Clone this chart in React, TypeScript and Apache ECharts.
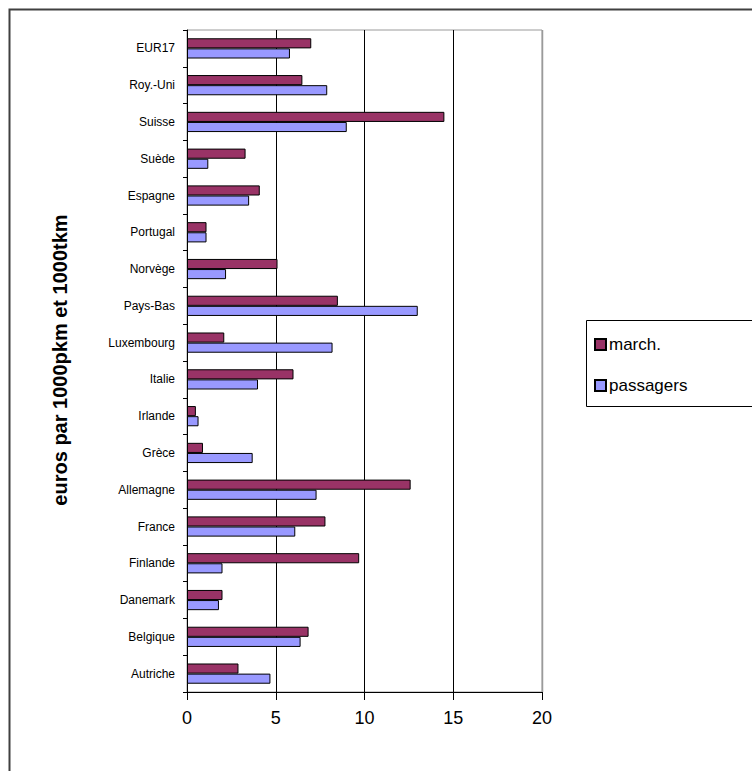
import React, { useEffect, useRef } from "react";
import * as echarts from "echarts";

const categories = [
  "Autriche", "Belgique", "Danemark", "Finlande", "France", "Allemagne",
  "Grèce", "Irlande", "Italie", "Luxembourg", "Pays-Bas", "Norvège",
  "Portugal", "Espagne", "Suède", "Suisse", "Roy.-Uni", "EUR17",
];
const marchValues = [2.9, 6.85, 2.0, 9.7, 7.8, 12.6, 0.9, 0.5, 6.0, 2.1, 8.5, 5.1, 1.1, 4.1, 3.3, 14.5, 6.5, 7.0];
const passagersValues = [4.7, 6.4, 1.8, 2.0, 6.1, 7.3, 3.7, 0.65, 4.0, 8.2, 13.0, 2.2, 1.1, 3.5, 1.2, 9.0, 7.9, 5.8];
const xTicks = [0, 5, 10, 15, 20];
const seriesNames = ["march.", "passagers"];
const yTitle = "euros par 1000pkm et 1000tkm";

export default function App() {
  const ref = useRef<HTMLDivElement>(null);
  useEffect(() => {
    if (!ref.current) return;
    const chart = echarts.init(ref.current, null, { renderer: "svg" });
    const font = "'Liberation Sans', Arial, sans-serif";
    chart.setOption({
      animation: false,
      backgroundColor: "#ffffff",
      grid: {
        left: 187, top: 30, width: 355, height: 662,
        show: true, borderColor: "#9a9a9a", borderWidth: 1,
      },
      xAxis: {
        type: "value",
        min: xTicks[0], max: xTicks[xTicks.length - 1], interval: 5,
        axisLine: { show: true, lineStyle: { color: "#000", width: 1 } },
        axisTick: { show: true, length: 8, lineStyle: { color: "#000" } },
        splitLine: { show: true, lineStyle: { color: "#000", width: 1 } },
        axisLabel: { color: "#000", fontSize: 18, margin: 17, fontFamily: font },
      },
      yAxis: {
        type: "category",
        data: categories,
        axisLine: { show: true, lineStyle: { color: "#000", width: 1 } },
        axisTick: { show: true, length: 4, lineStyle: { color: "#000" } },
        axisLabel: { color: "#000", fontSize: 12, margin: 12, fontFamily: font },
      },
      legend: {
        orient: "vertical",
        left: 589, top: 331,
        itemWidth: 11, itemHeight: 11, itemGap: 24,
        icon: "rect",
        textStyle: { color: "#000", fontSize: 17, fontFamily: font, padding: [0, 0, 0, -2] },
        data: seriesNames,
      },
      graphic: [
        {
          type: "rect", left: 7, top: 7, z: -1, silent: true,
          shape: { width: 800, height: 800 },
          style: { fill: "none", stroke: "#404040", lineWidth: 2 },
        },
        {
          type: "line", silent: true, z: 100,
          shape: { x1: 542.5, y1: 30, x2: 542.5, y2: 692 },
          style: { stroke: "#9a9a9a", lineWidth: 1.5 },
        },
        {
          type: "rect", left: 584, top: 318, silent: true,
          shape: { width: 200, height: 86 },
          style: { fill: "none", stroke: "#000", lineWidth: 1 },
        },
        {
          type: "text", x: 60, y: 360, rotation: Math.PI / 2, silent: true,
          style: {
            text: yTitle, fill: "#000", fontSize: 20, fontWeight: "bold",
            fontFamily: font,
            align: "center", verticalAlign: "middle",
          },
        },
      ],
      series: [
        {
          name: seriesNames[0], type: "bar", data: marchValues,
          barGap: "0%", barCategoryGap: "45%",
          itemStyle: { color: "#993366", borderColor: "#000", borderWidth: 1 },
        },
        {
          name: seriesNames[1], type: "bar", data: passagersValues,
          barGap: "0%", barCategoryGap: "45%",
          itemStyle: { color: "#9999FF", borderColor: "#000", borderWidth: 1 },
        },
      ],
    });
    return () => chart.dispose();
  }, []);
  return (
    <div
      ref={ref}
      style={{ position: "absolute", left: 0, top: 0, width: 752, height: 771, background: "#fff" }}
    />
  );
}
